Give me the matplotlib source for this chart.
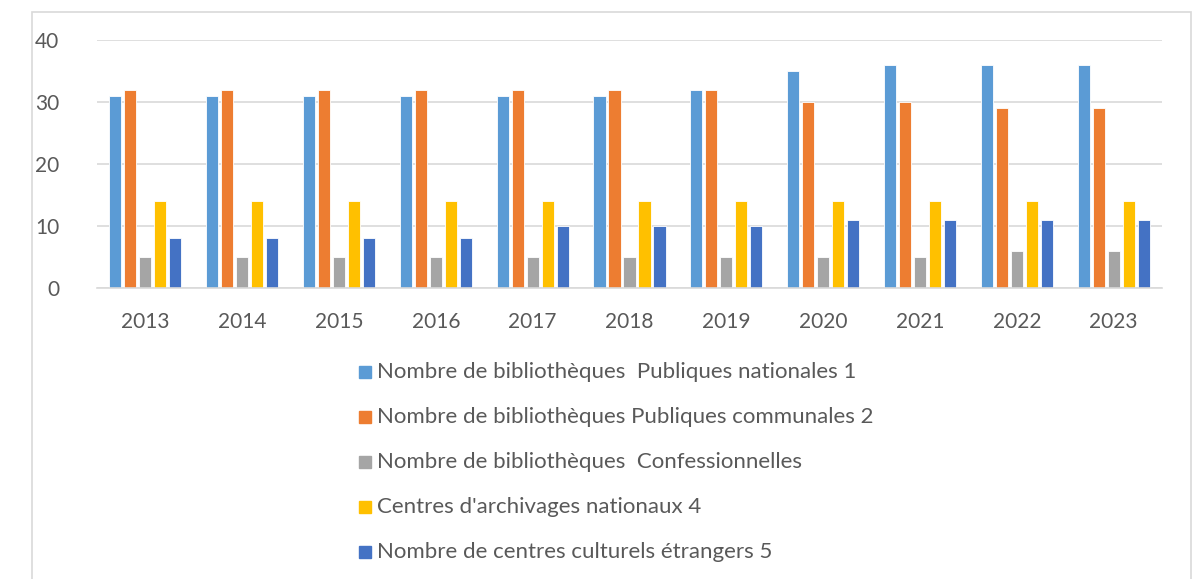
import matplotlib.pyplot as plt
from matplotlib.patches import Rectangle
import numpy as np

years = ["2013", "2014", "2015", "2016", "2017", "2018", "2019", "2020", "2021", "2022", "2023"]
nationales = [31, 31, 31, 31, 31, 31, 32, 35, 36, 36, 36]
communales = [32, 32, 32, 32, 32, 32, 32, 30, 30, 29, 29]
confessionnelles = [5, 5, 5, 5, 5, 5, 5, 5, 5, 6, 6]
archives = [14, 14, 14, 14, 14, 14, 14, 14, 14, 14, 14]
culturels = [8, 8, 8, 8, 10, 10, 10, 11, 11, 11, 11]

labels = [
    "Nombre de bibliothèques  Publiques nationales 1",
    "Nombre de bibliothèques Publiques communales 2",
    "Nombre de bibliothèques  Confessionnelles",
    "Centres d'archivages nationaux 4",
    "Nombre de centres culturels étrangers 5",
]
series = [nationales, communales, confessionnelles, archives, culturels]
colors = ["#5B9BD5", "#ED7D31", "#A5A5A5", "#FFC000", "#4472C4"]

plt.rcParams['font.family'] = ['Lato', 'DejaVu Sans']

fig = plt.figure(figsize=(11.95, 5.79), dpi=100)

# outer chart frame
fig.patches.append(Rectangle((32 / 1195, -0.05), (1191 - 32) / 1195, 1.05 - 12 / 579,
                             transform=fig.transFigure, fill=False,
                             edgecolor="#D9D9D9", linewidth=1.2))

ax = fig.add_axes([97 / 1195, 1 - 288 / 579, (1162 - 97) / 1195, (288 - 40) / 579])

x = np.arange(len(years))
step = 0.155
width = 0.125
for i, (vals, col) in enumerate(zip(series, colors)):
    ax.bar(x + (i - 2) * step, vals, width, color=col, edgecolor="white", linewidth=0.6)

ax.set_xlim(-0.5, len(years) - 0.5)
ax.set_ylim(0, 40)
ax.set_yticks([0, 10, 20, 30, 40])
ax.set_xticks(x)
ax.set_xticklabels(years)
ax.grid(axis="y", color="#D9D9D9", linewidth=1.2)
ax.set_axisbelow(True)
for s in ["top", "right", "left"]:
    ax.spines[s].set_visible(False)
ax.spines["bottom"].set_color("#D9D9D9")
ax.spines["bottom"].set_linewidth(1.2)
ax.tick_params(length=0, labelsize=15, colors="#595959")
ax.tick_params(axis="x", pad=17)
ax.tick_params(axis="y", pad=27)

# legend, one entry per row
for i, (lab, col) in enumerate(zip(labels, colors)):
    y = 1 - (372 + 45 * i) / 579
    fig.patches.append(Rectangle((359 / 1195, y - 6 / 579), 12 / 1195, 12 / 579,
                                 transform=fig.transFigure, color=col))
    fig.text(377 / 1195, y, lab, fontsize=16, color="#595959", va="center")

plt.savefig("out.png")
